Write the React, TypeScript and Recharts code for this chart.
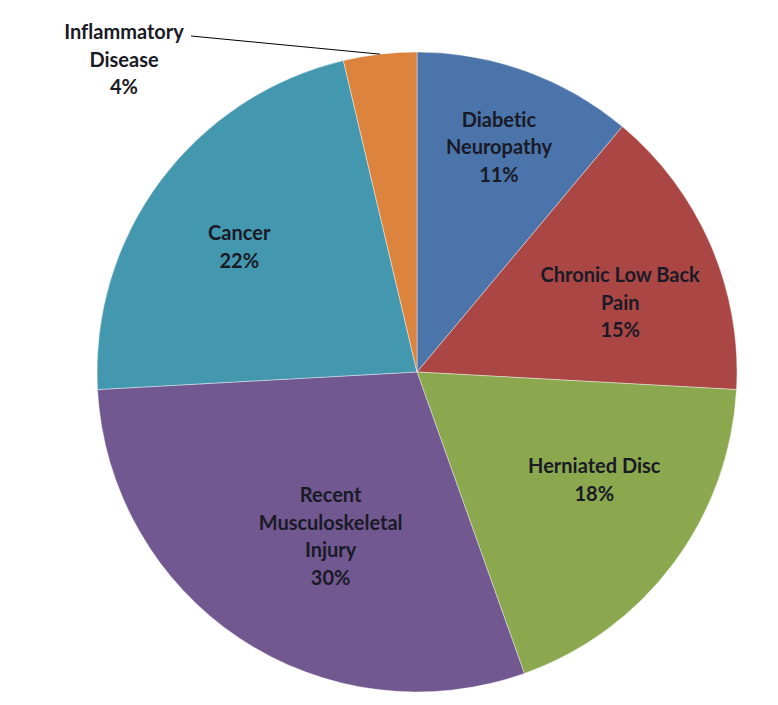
import { PieChart, Pie, Cell } from 'recharts'

// slice shares, printed percentages separately
const categories = [
  'Diabetic Neuropathy',
  'Chronic Low Back Pain',
  'Herniated Disc',
  'Recent Musculoskeletal Injury',
  'Cancer',
  'Inflammatory Disease',
]
const shares = [11.1, 14.8, 18.7, 29.6, 22.2, 3.7]
const percentLabels = ['11%', '15%', '18%', '30%', '22%', '4%']
const labelLines = [
  ['Diabetic', 'Neuropathy'],
  ['Chronic Low Back', 'Pain'],
  ['Herniated Disc'],
  ['Recent', 'Musculoskeletal', 'Injury'],
  ['Cancer'],
  ['Inflammatory', 'Disease'],
]

const COLORS = ['#4a74aa', '#aa4745', '#8ba84e', '#715890', '#4398b0', '#dc843d']
const FONT = "Lato, 'Open Sans', sans-serif"
const TEXT = '#1a1a26'
const LINE_H = 27.5

// label placement: radius from centre, angle shift in degrees (Excel best-fit look)
const placement = [
  { r: 240, da: 0 },
  { r: 215, da: -4.4 },
  { r: 207, da: 5.7 },
  { r: 185, da: 5.8 },
  { r: 218, da: 1.4 },
]

const data = categories.map((name, i) => ({ name, value: shares[i] }))

const RAD = Math.PI / 180

function renderLabel(props: any) {
  const { cx, cy, midAngle, outerRadius, index } = props
  const lines = [...labelLines[index], percentLabels[index]]
  const style = {
    fontFamily: FONT, fontSize: 20, fontWeight: 700, fill: TEXT,
    style: { fontVariantLigatures: 'none' as const },
  }

  if (index === 5) {
    // outside label with leader line
    const sx = cx + outerRadius * Math.cos(-midAngle * RAD)
    const sy = cy + outerRadius * Math.sin(-midAngle * RAD)
    const ex = 191
    const ey = 36
    const tx = 124
    return (
      <g>
        <path d={`M${sx},${sy}L${ex},${ey}`} stroke="#000" strokeWidth={1} fill="none" />
        {lines.map((l, k) => (
          <text key={k} x={tx} y={31 + k * LINE_H} textAnchor="middle" dominantBaseline="central" {...style}>
            {l}
          </text>
        ))}
      </g>
    )
  }

  const p = placement[index]
  const a = (midAngle + p.da) * RAD
  const x = cx + p.r * Math.cos(-a)
  const y = cy + p.r * Math.sin(-a)
  const top = y - ((lines.length - 1) * LINE_H) / 2
  return (
    <g>
      {lines.map((l, k) => (
        <text key={k} x={x} y={top + k * LINE_H} textAnchor="middle" dominantBaseline="central" {...style}>
          {l}
        </text>
      ))}
    </g>
  )
}

export default function App() {
  return (
    <div style={{ position: 'absolute', left: 0, top: 0, width: 778, height: 705, background: '#fff' }}>
      <PieChart width={778} height={705} margin={{ top: 0, right: 0, bottom: 0, left: 0 }}>
        <Pie
          data={data}
          dataKey="value"
          nameKey="name"
          cx={417}
          cy={372}
          outerRadius={320}
          startAngle={90}
          endAngle={-270}
          label={renderLabel}
          labelLine={false}
          stroke="rgba(255,255,255,0.5)"
          strokeWidth={0.8}
          isAnimationActive={false}
        >
          {data.map((d, i) => (
            <Cell key={d.name} fill={COLORS[i]} />
          ))}
        </Pie>
      </PieChart>
    </div>
  )
}
